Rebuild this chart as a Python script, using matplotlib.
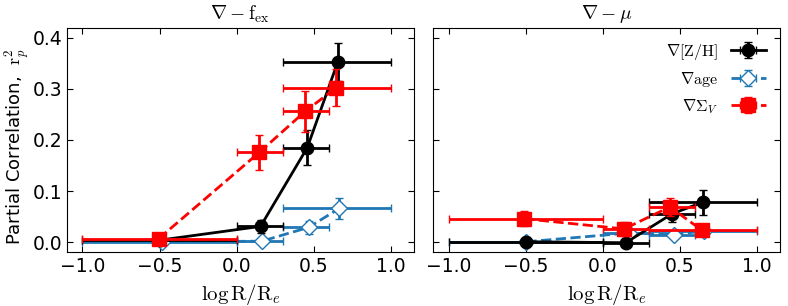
import numpy as np
import matplotlib
matplotlib.use('Agg')
import matplotlib.pyplot as plt

plt.rcParams['mathtext.fontset'] = 'cm'
plt.rcParams['xtick.direction'] = 'in'
plt.rcParams['ytick.direction'] = 'in'
plt.rcParams['xtick.top'] = True
plt.rcParams['ytick.right'] = True

# bin edges in log R/Re (lower, upper)
bin_lo = [-1.0, 0.0, 0.3, 0.3]
bin_hi = [0.0, 0.3, 0.6, 1.0]

# left panel: gradient vs f_ex
zh_x_l = [-0.5, 0.155, 0.458, 0.655]
zh_y_l = [0.004, 0.031, 0.185, 0.352]
zh_e_l = [0.003, 0.013, 0.034, 0.037]
age_x_l = [-0.485, 0.163, 0.466, 0.665]
age_y_l = [0.001, 0.002, 0.029, 0.066]
age_e_l = [0.002, 0.004, 0.013, 0.021]
sig_x_l = [-0.505, 0.148, 0.444, 0.645]
sig_y_l = [0.007, 0.176, 0.256, 0.302]
sig_e_l = [0.003, 0.034, 0.040, 0.036]

# right panel: gradient vs mu
zh_x_r = [-0.5, 0.149, 0.452, 0.647]
zh_y_r = [0.001, -0.001, 0.056, 0.078]
zh_e_r = [0.002, 0.004, 0.016, 0.024]
age_x_r = [-0.495, 0.17, 0.461, 0.656]
age_y_r = [0.001, 0.018, 0.015, 0.022]
age_e_r = [0.002, 0.004, 0.004, 0.005]
sig_x_r = [-0.51, 0.138, 0.435, 0.641]
sig_y_r = [0.046, 0.026, 0.069, 0.024]
sig_e_r = [0.015, 0.013, 0.018, 0.008]

titles = [r'$\nabla - \mathrm{f_{ex}}$', r'$\nabla - \mu$']
labels = [r'$\nabla[\mathrm{Z/H}]$', r'$\nabla\mathrm{age}$', r'$\nabla\Sigma_V$']


def xerr(xc):
    xc = np.array(xc)
    return [xc - np.array(bin_lo), np.array(bin_hi) - xc]


fig, axes = plt.subplots(1, 2, figsize=(7.88, 3.06), dpi=100, sharey=True)
plt.subplots_adjust(left=0.085, right=0.99, bottom=0.175, top=0.91, wspace=0.055)

panels = [
    [(zh_x_l, zh_y_l, zh_e_l), (age_x_l, age_y_l, age_e_l), (sig_x_l, sig_y_l, sig_e_l)],
    [(zh_x_r, zh_y_r, zh_e_r), (age_x_r, age_y_r, age_e_r), (sig_x_r, sig_y_r, sig_e_r)],
]
styles = [
    dict(color='k', marker='o', ls='-', mfc='k', mec='k', ms=9, zorder=3),
    dict(color='#1f77b4', marker='D', ls='--', mfc='white', mec='#1f77b4', ms=8, zorder=2),
    dict(color='r', marker='s', ls='--', mfc='r', mec='r', ms=10, zorder=4),
]

for ax, series, title in zip(axes, panels, titles):
    for (x, y, e), st, lab in zip(series, styles, labels):
        ax.errorbar(x, y, yerr=e, xerr=xerr(x), lw=2, elinewidth=2,
                    capsize=3, capthick=1, mew=1, label=lab, **st)
    ax.set_title(title, fontsize=14)
    ax.set_xlim(-1.1, 1.15)
    ax.set_ylim(-0.02, 0.42)
    ax.set_xticks([-1.0, -0.5, 0.0, 0.5, 1.0])
    ax.set_yticks([0.0, 0.1, 0.2, 0.3, 0.4])
    ax.set_xlabel(r'$\log\mathrm{R/R}_e$', fontsize=15)
    ax.tick_params(labelsize=13.5, length=4)

axes[0].set_ylabel(r'Partial Correlation,  $\mathrm{r}_p^2$', fontsize=13)
axes[0].yaxis.set_label_coords(-0.1, 0.47)
axes[1].tick_params(labelleft=False)
axes[1].legend(loc='upper right', frameon=False, markerfirst=False, fontsize=11.5,
               handlelength=2.2, labelspacing=0.5, numpoints=1)

fig.savefig('out.png', dpi=100)
